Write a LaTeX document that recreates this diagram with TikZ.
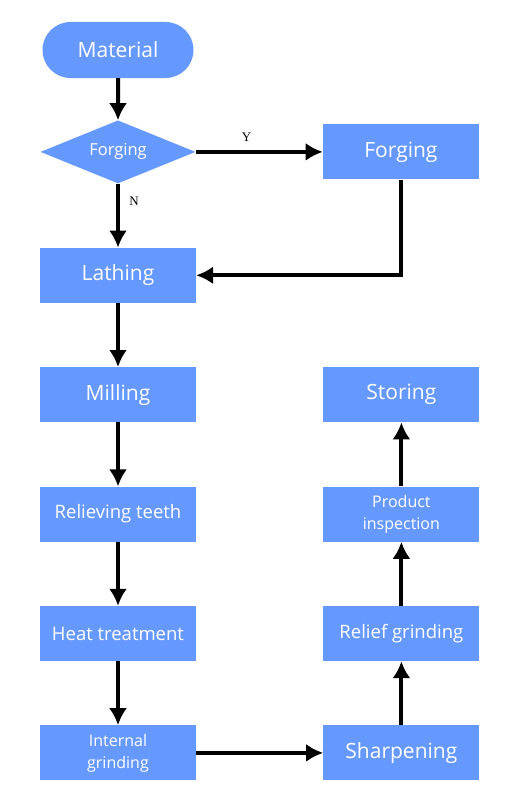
\documentclass[tikz,border=0pt]{standalone}
\usepackage{fontspec}
\setmainfont{Open Sans}
\newfontfamily\labelfont{Liberation Serif}
\usetikzlibrary{arrows.meta,positioning,shapes.geometric,shapes.misc}
\definecolor{boxblue}{RGB}{102,153,255}

\begin{document}
\begin{tikzpicture}[>={Latex[length=17pt,width=18pt]},
  box/.style={fill=boxblue,text=white,minimum width=156pt,minimum height=55pt,
    inner sep=2pt,align=center,font=\fontsize{18.5}{22}\selectfont},
  bigbox/.style={box,font=\fontsize{21}{24}\selectfont},
  twoline/.style={box,font=\fontsize{16}{22}\selectfont},
  yn/.style={font=\labelfont\fontsize{13}{15}\selectfont},
  arr/.style={->,line width=4pt}]
\useasboundingbox (0,0) rectangle (520pt,-800pt);
\node[bigbox,rounded rectangle,minimum height=56pt,minimum width=155pt] (mat) at (118pt,-50pt) {Material};
\node[box,diamond,aspect=2.46,inner sep=0pt,minimum width=155pt,minimum height=63pt,
  font=\fontsize{16.5}{19}\selectfont,below=42pt of mat] (dec) {Forging};
\node[bigbox,right=127pt of dec] (forg) {Forging};
\node[bigbox,below=64pt of dec] (lath) {Lathing};
\node[bigbox,below=64pt of lath] (mill) {Milling};
\node[box,below=64pt of mill] (reli) {Relieving teeth};
\node[box,below=64pt of reli] (heat) {Heat treatment};
\node[twoline,below=64pt of heat] (intg) {Internal\\grinding};
\node[bigbox,right=127pt of intg] (sharp) {Sharpening};
\node[box,right=127pt of heat] (relg) {Relief grinding};
\node[twoline,right=127pt of reli] (insp) {Product\\inspection};
\node[bigbox,right=127pt of mill] (stor) {Storing};

\draw[arr] (mat)--(dec);
\draw[arr] (dec)--node[above=5pt,pos=0.4,yn]{Y}(forg);
\draw[arr] (dec)--node[right=6pt,pos=0.28,yn]{N}(lath);
\draw[arr] (forg.south) |- (lath.east);
\draw[arr] (lath)--(mill);
\draw[arr] (mill)--(reli);
\draw[arr] (reli)--(heat);
\draw[arr] (heat)--(intg);
\draw[arr] (intg)--(sharp);
\draw[arr] (sharp)--(relg);
\draw[arr] (relg)--(insp);
\draw[arr] (insp)--(stor);
\end{tikzpicture}
\end{document}
